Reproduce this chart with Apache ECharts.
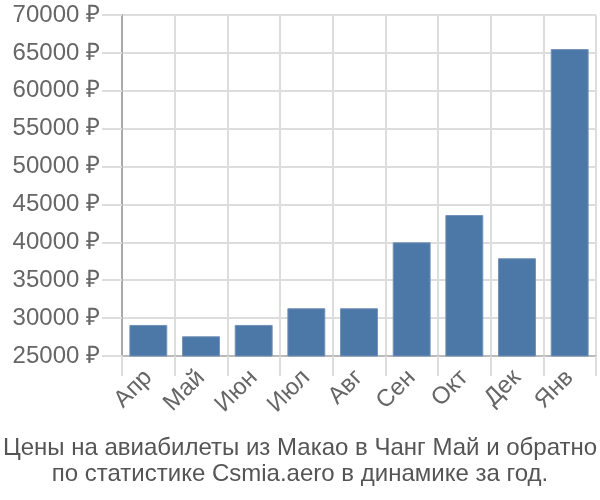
<!DOCTYPE html>
<html><head><meta charset="utf-8">
<script src="https://cdn.jsdelivr.net/npm/echarts@6/dist/echarts.min.js"></script>
<style>html,body{margin:0;padding:0;background:#fff}#c{width:600px;height:500px}</style>
</head><body><div id="c"></div>
<script>
const categories = ['Апр','Май','Июн','Июл','Авг','Сен','Окт','Дек','Янв'];
const prices = [29100, 27600, 29100, 31300, 31300, 40000, 43600, 37900, 65500];
const yMin = 25000, yMax = 70000, yStep = 5000;
const titleLines = ['Цены на авиабилеты из Макао в Чанг Май и обратно', 'по статистике Csmia.aero в динамике за год.'];

const chart = echarts.init(document.getElementById('c'), null, {renderer:'canvas'});
const font = 'Liberation Sans, Arial, sans-serif';
chart.setOption({
  animation:false,
  textStyle:{fontFamily:font},
  title:{
    text: titleLines.join('\n'),
    left:'center', top:430,
    textStyle:{fontFamily:font, fontSize:24, fontWeight:'normal', color:'#555', lineHeight:26}
  },
  grid:{left:122, right:4, top:15, bottom:144, containLabel:false},
  xAxis:{
    type:'category', data:categories,
    axisLine:{show:true, lineStyle:{color:'#bbb', width:2}},
    axisTick:{show:true, length:20, alignWithLabel:false, lineStyle:{color:'#ddd', width:2}},
    splitLine:{show:true, lineStyle:{color:'#ddd', width:2}},
    axisLabel:{rotate:45, fontSize:24, color:'#666', fontFamily:font, margin:18}
  },
  yAxis:{
    type:'value', min:yMin, max:yMax, interval:yStep,
    axisLine:{show:true, lineStyle:{color:'#aaa', width:2}},
    axisTick:{show:true, length:20, lineStyle:{color:'#ddd', width:2}},
    splitLine:{show:true, lineStyle:{color:'#ddd', width:2}},
    axisLabel:{fontSize:24, color:'#666', fontFamily:font, margin:22, formatter: v => v + ' ₽'}
  },
  series:[{
    type:'bar', data:prices, barWidth:'72%',
    itemStyle:{color:'#4c78a8', borderColor:'#7391b8', borderWidth:1}
  }]
});
</script></body></html>
